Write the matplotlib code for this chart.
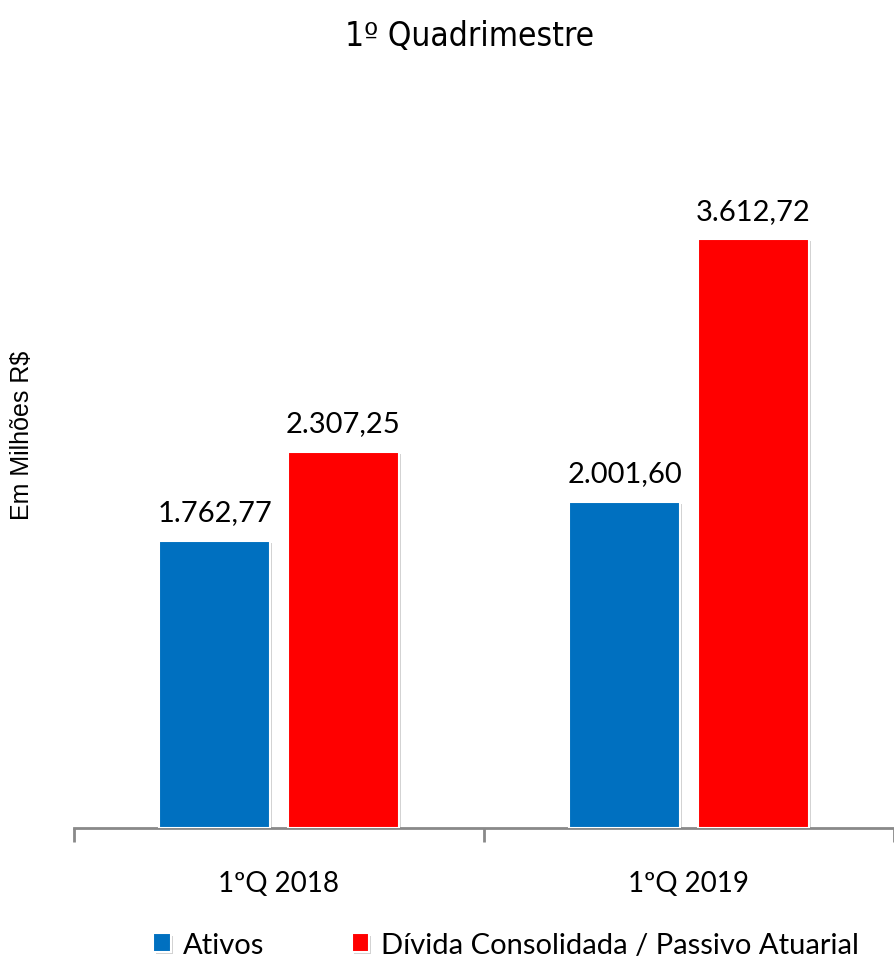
import numpy as np
import matplotlib
matplotlib.use("Agg")
import matplotlib.pyplot as plt
import matplotlib.patheffects as pe

categorias = ["1ºQ 2018", "1ºQ 2019"]
ativos = [1762.77, 2001.60]
divida = [2307.25, 3612.72]
rotulos_ativos = ["1.762,77", "2.001,60"]
rotulos_divida = ["2.307,25", "3.612,72"]

azul = "#0070C0"
vermelho = "#FF0000"

fig = plt.figure(figsize=(8.94, 9.62), dpi=100)
ax = fig.add_axes([74 / 894, 133 / 962, 1 - 74 / 894, 729 / 962])

x = np.arange(len(categorias))
w = 0.27
off = 0.157
sombra = [pe.SimplePatchShadow(offset=(1.5, -1.5), shadow_rgbFace="gray", alpha=0.35), pe.Normal()]
b1 = ax.bar(x - off, ativos, w, color=azul, edgecolor="white", linewidth=1.5, label="Ativos", zorder=3)
b2 = ax.bar(x + off, divida, w, color=vermelho, edgecolor="white", linewidth=1.5,
            label="Dívida Consolidada / Passivo Atuarial", zorder=3)
for b in list(b1) + list(b2):
    b.set_path_effects(sombra)

fonte = "Lato"
for xi, v, t in zip(x - off, ativos, rotulos_ativos):
    ax.text(xi, v + 95, t, ha="center", va="bottom", fontsize=21, family=fonte)
for xi, v, t in zip(x + off, divida, rotulos_divida):
    ax.text(xi, v + 95, t, ha="center", va="bottom", fontsize=21, family=fonte)

ax.set_xlim(-0.5, 1.485)
ax.set_ylim(0, 4472)
ax.set_yticks([])
ax.set_xticks([-0.5, 0.5, 1.5])
ax.set_xticklabels([])
ax.set_xticks(x, minor=True)
ax.set_xticklabels(categorias, minor=True, fontsize=20, family=fonte)
ax.tick_params(axis="x", which="major", length=10, width=2, color="#898989", direction="out")
ax.tick_params(axis="x", which="minor", length=0, pad=30)
for s in ["top", "right", "left"]:
    ax.spines[s].set_visible(False)
ax.spines["bottom"].set_color("#898989")
ax.spines["bottom"].set_linewidth(2)

fig.text(22 / 894, 1 - 435 / 962, "Em Milhões R$", rotation=90, ha="center", va="center",
         fontsize=18, family="Liberation Sans")
fig.text(470 / 894, 1 - 37 / 962, "1º Quadrimestre", ha="center", va="center",
         fontsize=24, family="DejaVu Sans", fontstretch="condensed")

fig.legend(handles=[b1, b2], loc="center", bbox_to_anchor=(506 / 894, 1 - 946 / 962), ncol=2,
           frameon=False, prop={"family": fonte, "size": 21}, handlelength=0.6, handleheight=0.6,
           handletextpad=0.4, columnspacing=3.0)

fig.savefig("out.png", dpi=100)
